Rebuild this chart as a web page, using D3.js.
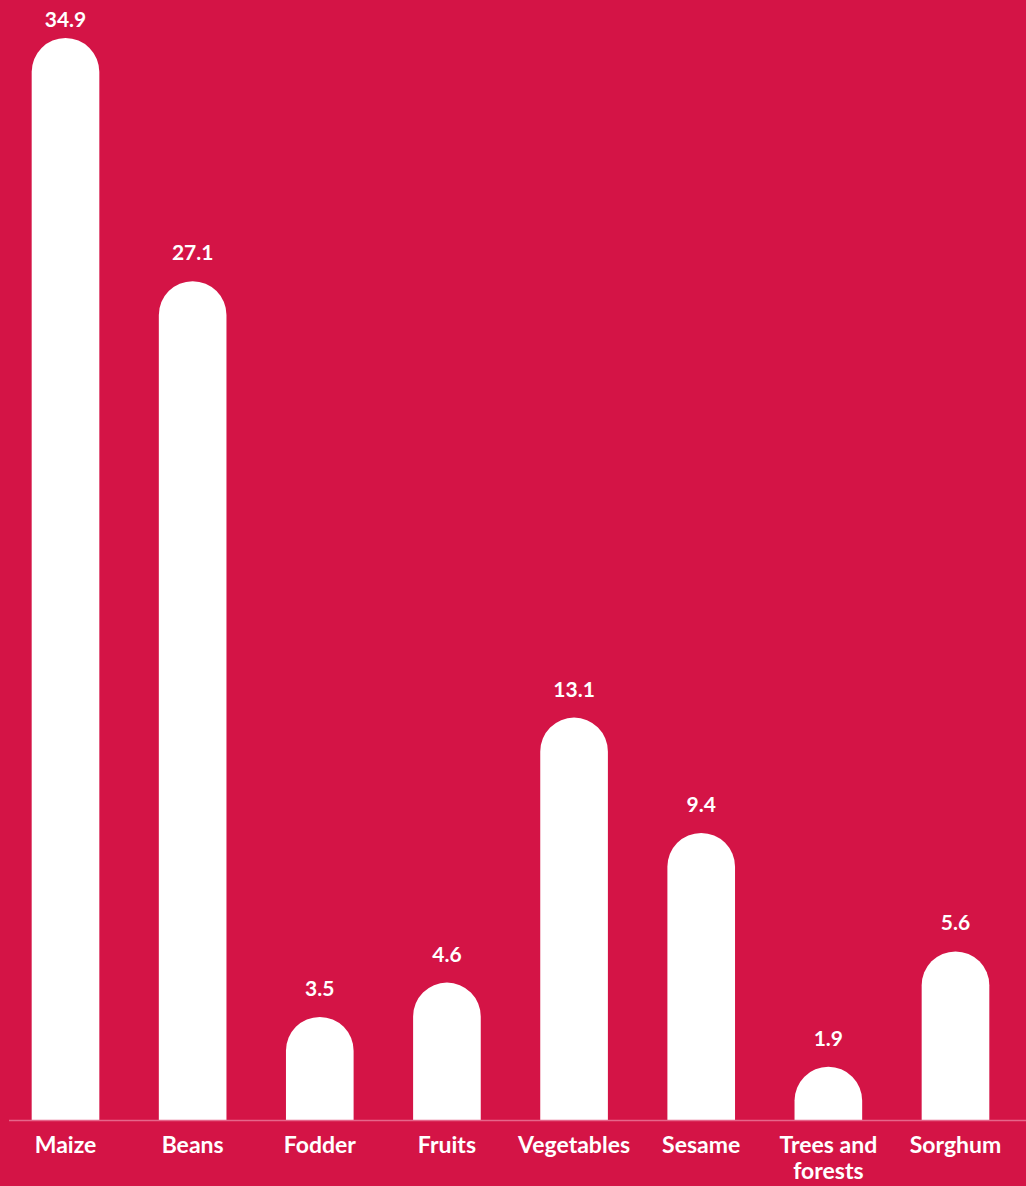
<!DOCTYPE html>
<html>
<head>
<meta charset="utf-8">
<script src="https://cdnjs.cloudflare.com/ajax/libs/d3/7.8.5/d3.min.js"></script>
<style>
html,body{margin:0;padding:0;background:#d41446;}
svg{display:block;}
text{font-family:Lato,"Open Sans",sans-serif;font-weight:700;fill:#fff;}
</style>
</head>
<body>
<script>
const categories = ["Maize","Beans","Fodder","Fruits","Vegetables","Sesame","Trees and forests","Sorghum"];
const values = [34.9, 27.1, 3.5, 4.6, 13.1, 9.4, 1.9, 5.6];
const labelLines = [["Maize"],["Beans"],["Fodder"],["Fruits"],["Vegetables"],["Sesame"],["Trees and","forests"],["Sorghum"]];

const W = 1026, H = 1186;
const baseY = 1120;
const svg = d3.select("body").append("svg").attr("width", W).attr("height", H);
svg.append("rect").attr("width", W).attr("height", H).attr("fill", "#d41446");

const x = d3.scaleBand().domain(categories).range([-0.1, 1021.1]).paddingInner(0.468).paddingOuter(0.25);
const y = d3.scaleLinear().domain([0, 34.9]).range([1126, 38]);

const bw = x.bandwidth();
const r = bw / 2;

const g = svg.append("g");
categories.forEach((c, i) => {
  const x0 = x(c), top = y(values[i]), h = baseY - top;
  const rr = Math.min(r, h);
  const p = d3.path();
  p.moveTo(x0, baseY);
  p.lineTo(x0, top + rr);
  p.arcTo(x0, top, x0 + rr, top, rr);
  p.lineTo(x0 + bw - rr, top);
  p.arcTo(x0 + bw, top, x0 + bw, top + rr, rr);
  p.lineTo(x0 + bw, baseY);
  p.closePath();
  g.append("path").attr("d", p.toString()).attr("fill", "#fff");
  g.append("text")
    .attr("x", x0 + bw / 2).attr("y", Math.max(top - 21, 27))
    .attr("text-anchor", "middle").attr("font-size", 21)
    .text(values[i].toFixed(1));
  const t = g.append("text").attr("text-anchor", "middle").attr("font-size", 23)
    .attr("x", x0 + bw / 2).attr("y", 1153);
  labelLines[i].forEach((ln, j) => {
    t.append("tspan").attr("x", x0 + bw / 2).attr("dy", j === 0 ? 0 : 26).text(ln);
  });
});

svg.append("line").attr("x1", 9).attr("x2", W).attr("y1", baseY + 0.5).attr("y2", baseY + 0.5)
  .attr("stroke", "#e6668a").attr("stroke-width", 1.5);
</script>
</body>
</html>
